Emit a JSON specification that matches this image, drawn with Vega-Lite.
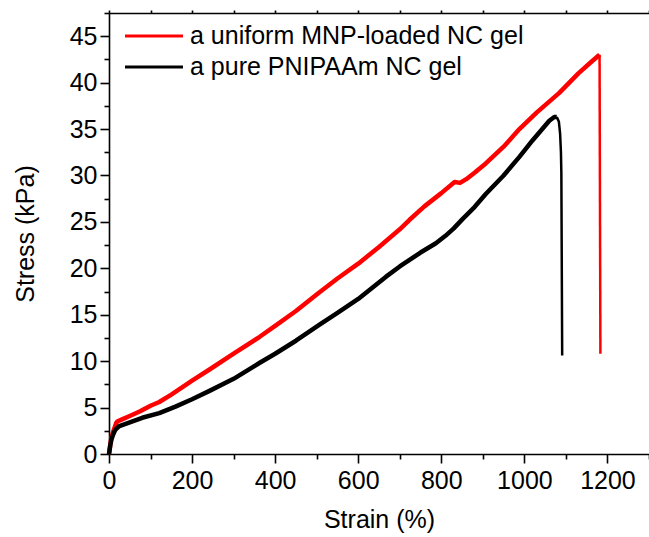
{
  "$schema": "https://vega.github.io/schema/vega-lite/v6.json",
  "width": 540,
  "height": 441,
  "autosize": {"type": "none"},
  "padding": {"left": 109, "top": 13, "right": 0, "bottom": 83},
  "config": {
    "font": "Liberation Sans",
    "view": {"stroke": null},
    "axis": {
      "domainColor": "#000000",
      "domainWidth": 1.6,
      "tickColor": "#000000",
      "tickWidth": 1.6,
      "grid": false,
      "labelColor": "#000000",
      "labelFont": "Liberation Sans",
      "labelFontSize": 25,
      "titleFont": "Liberation Sans",
      "titleFontSize": 25,
      "titleFontWeight": "normal",
      "titleColor": "#000000"
    }
  },
  "datasets": {
    "curves": [
      {"sample": "a uniform MNP-loaded NC gel", "strain": 0, "stress": 0},
      {"sample": "a uniform MNP-loaded NC gel", "strain": 3, "stress": 1.0},
      {"sample": "a uniform MNP-loaded NC gel", "strain": 6, "stress": 1.8},
      {"sample": "a uniform MNP-loaded NC gel", "strain": 10, "stress": 2.4},
      {"sample": "a uniform MNP-loaded NC gel", "strain": 14, "stress": 2.9},
      {"sample": "a uniform MNP-loaded NC gel", "strain": 17, "stress": 3.3},
      {"sample": "a uniform MNP-loaded NC gel", "strain": 20, "stress": 3.5},
      {"sample": "a uniform MNP-loaded NC gel", "strain": 30, "stress": 3.7},
      {"sample": "a uniform MNP-loaded NC gel", "strain": 50, "stress": 4.1},
      {"sample": "a uniform MNP-loaded NC gel", "strain": 75, "stress": 4.6},
      {"sample": "a uniform MNP-loaded NC gel", "strain": 100, "stress": 5.2},
      {"sample": "a uniform MNP-loaded NC gel", "strain": 121, "stress": 5.6},
      {"sample": "a uniform MNP-loaded NC gel", "strain": 150, "stress": 6.4},
      {"sample": "a uniform MNP-loaded NC gel", "strain": 200, "stress": 7.9},
      {"sample": "a uniform MNP-loaded NC gel", "strain": 242, "stress": 9.1},
      {"sample": "a uniform MNP-loaded NC gel", "strain": 300, "stress": 10.8},
      {"sample": "a uniform MNP-loaded NC gel", "strain": 362, "stress": 12.6},
      {"sample": "a uniform MNP-loaded NC gel", "strain": 400, "stress": 13.8},
      {"sample": "a uniform MNP-loaded NC gel", "strain": 450, "stress": 15.4},
      {"sample": "a uniform MNP-loaded NC gel", "strain": 506, "stress": 17.4},
      {"sample": "a uniform MNP-loaded NC gel", "strain": 550, "stress": 18.9},
      {"sample": "a uniform MNP-loaded NC gel", "strain": 600, "stress": 20.5},
      {"sample": "a uniform MNP-loaded NC gel", "strain": 650, "stress": 22.3},
      {"sample": "a uniform MNP-loaded NC gel", "strain": 700, "stress": 24.2},
      {"sample": "a uniform MNP-loaded NC gel", "strain": 723, "stress": 25.2},
      {"sample": "a uniform MNP-loaded NC gel", "strain": 760, "stress": 26.7},
      {"sample": "a uniform MNP-loaded NC gel", "strain": 800, "stress": 28.1},
      {"sample": "a uniform MNP-loaded NC gel", "strain": 832, "stress": 29.3},
      {"sample": "a uniform MNP-loaded NC gel", "strain": 845, "stress": 29.2},
      {"sample": "a uniform MNP-loaded NC gel", "strain": 860, "stress": 29.6},
      {"sample": "a uniform MNP-loaded NC gel", "strain": 880, "stress": 30.3},
      {"sample": "a uniform MNP-loaded NC gel", "strain": 907, "stress": 31.3},
      {"sample": "a uniform MNP-loaded NC gel", "strain": 950, "stress": 33.1},
      {"sample": "a uniform MNP-loaded NC gel", "strain": 988, "stress": 35.0},
      {"sample": "a uniform MNP-loaded NC gel", "strain": 1030, "stress": 36.8},
      {"sample": "a uniform MNP-loaded NC gel", "strain": 1084, "stress": 38.9},
      {"sample": "a uniform MNP-loaded NC gel", "strain": 1130, "stress": 41.0},
      {"sample": "a uniform MNP-loaded NC gel", "strain": 1160, "stress": 42.2},
      {"sample": "a uniform MNP-loaded NC gel", "strain": 1181, "stress": 43.0},
      {"sample": "a pure PNIPAAm NC gel", "strain": 0, "stress": 0},
      {"sample": "a pure PNIPAAm NC gel", "strain": 3, "stress": 0.9},
      {"sample": "a pure PNIPAAm NC gel", "strain": 6, "stress": 1.6},
      {"sample": "a pure PNIPAAm NC gel", "strain": 10, "stress": 2.1},
      {"sample": "a pure PNIPAAm NC gel", "strain": 14, "stress": 2.5},
      {"sample": "a pure PNIPAAm NC gel", "strain": 17, "stress": 2.7},
      {"sample": "a pure PNIPAAm NC gel", "strain": 25, "stress": 3.0},
      {"sample": "a pure PNIPAAm NC gel", "strain": 50, "stress": 3.4},
      {"sample": "a pure PNIPAAm NC gel", "strain": 80, "stress": 3.9},
      {"sample": "a pure PNIPAAm NC gel", "strain": 121, "stress": 4.4},
      {"sample": "a pure PNIPAAm NC gel", "strain": 160, "stress": 5.1},
      {"sample": "a pure PNIPAAm NC gel", "strain": 200, "stress": 5.9},
      {"sample": "a pure PNIPAAm NC gel", "strain": 242, "stress": 6.8},
      {"sample": "a pure PNIPAAm NC gel", "strain": 300, "stress": 8.1},
      {"sample": "a pure PNIPAAm NC gel", "strain": 362, "stress": 9.8},
      {"sample": "a pure PNIPAAm NC gel", "strain": 400, "stress": 10.8},
      {"sample": "a pure PNIPAAm NC gel", "strain": 450, "stress": 12.2},
      {"sample": "a pure PNIPAAm NC gel", "strain": 506, "stress": 13.9},
      {"sample": "a pure PNIPAAm NC gel", "strain": 550, "stress": 15.2},
      {"sample": "a pure PNIPAAm NC gel", "strain": 600, "stress": 16.7},
      {"sample": "a pure PNIPAAm NC gel", "strain": 667, "stress": 19.1},
      {"sample": "a pure PNIPAAm NC gel", "strain": 700, "stress": 20.2},
      {"sample": "a pure PNIPAAm NC gel", "strain": 750, "stress": 21.7},
      {"sample": "a pure PNIPAAm NC gel", "strain": 787, "stress": 22.7},
      {"sample": "a pure PNIPAAm NC gel", "strain": 810, "stress": 23.5},
      {"sample": "a pure PNIPAAm NC gel", "strain": 830, "stress": 24.3},
      {"sample": "a pure PNIPAAm NC gel", "strain": 851, "stress": 25.3},
      {"sample": "a pure PNIPAAm NC gel", "strain": 880, "stress": 26.6},
      {"sample": "a pure PNIPAAm NC gel", "strain": 907, "stress": 28.0},
      {"sample": "a pure PNIPAAm NC gel", "strain": 950, "stress": 30.0},
      {"sample": "a pure PNIPAAm NC gel", "strain": 988, "stress": 32.0},
      {"sample": "a pure PNIPAAm NC gel", "strain": 1020, "stress": 33.8},
      {"sample": "a pure PNIPAAm NC gel", "strain": 1060, "stress": 35.9},
      {"sample": "a pure PNIPAAm NC gel", "strain": 1072, "stress": 36.3},
      {"sample": "a pure PNIPAAm NC gel", "strain": 1078, "stress": 36.3}
    ],
    "drops": [
      {"sample": "a uniform MNP-loaded NC gel", "strain": 1181, "stress": 43.0},
      {"sample": "a uniform MNP-loaded NC gel", "strain": 1183, "stress": 10.8},
      {"sample": "a pure PNIPAAm NC gel", "strain": 1078, "stress": 36.3},
      {"sample": "a pure PNIPAAm NC gel", "strain": 1083, "stress": 35.8},
      {"sample": "a pure PNIPAAm NC gel", "strain": 1086, "stress": 34.5},
      {"sample": "a pure PNIPAAm NC gel", "strain": 1088, "stress": 32.5},
      {"sample": "a pure PNIPAAm NC gel", "strain": 1089, "stress": 30.3},
      {"sample": "a pure PNIPAAm NC gel", "strain": 1091, "stress": 10.6}
    ]
  },
  "resolve": {"axis": {"x": "independent", "y": "independent"}},
  "layer": [
    {
      "data": {"name": "curves"},
      "mark": {"type": "line", "strokeWidth": 4.5, "strokeJoin": "round"},
      "encoding": {
        "x": {
          "field": "strain", "type": "quantitative",
          "scale": {"domain": [0, 1300], "nice": false, "zero": false},
          "axis": {"orient": "bottom", "title": "Strain (%)", "format": "d", "values": [0, 200, 400, 600, 800, 1000, 1200], "tickSize": 9, "labelPadding": 5, "titlePadding": 14, "labelFlush": false, "labelFontSize": 25, "titleFontSize": 25, "labelFont": "Liberation Sans", "titleFont": "Liberation Sans"}
        },
        "y": {
          "field": "stress", "type": "quantitative",
          "scale": {"domain": [0, 47.5], "nice": false, "zero": false},
          "axis": {"orient": "left", "title": "Stress (kPa)", "values": [0, 5, 10, 15, 20, 25, 30, 35, 40, 45], "tickSize": 9, "labelPadding": 3, "titlePadding": 31, "labelFlush": false, "labelFontSize": 25, "titleFontSize": 25, "labelFont": "Liberation Sans", "titleFont": "Liberation Sans"}
        },
        "color": {
          "field": "sample", "type": "nominal",
          "scale": {"domain": ["a uniform MNP-loaded NC gel", "a pure PNIPAAm NC gel"], "range": ["#ff0000", "#000000"]},
          "legend": {
            "orient": "none", "legendX": 29, "legendY": 7, "title": null,
            "symbolType": "M-2,0H2", "symbolSize": 841, "symbolStrokeWidth": 3,
            "labelFontSize": 25, "labelFont": "Liberation Sans", "labelColor": "#000000",
            "labelLimit": 500, "labelOffset": 20, "padding": 0, "rowPadding": 2
          }
        },
        "order": {"field": "strain", "type": "quantitative"}
      }
    },
    {
      "data": {"name": "drops"},
      "mark": {"type": "line", "strokeWidth": 2.5},
      "encoding": {
        "x": {"field": "strain", "type": "quantitative", "axis": null},
        "y": {"field": "stress", "type": "quantitative", "axis": null},
        "color": {"field": "sample", "type": "nominal", "legend": null},
        "order": {"field": "strain", "type": "quantitative"}
      }
    },
    {
      "data": {"name": "drops"},
      "mark": {"type": "point", "opacity": 0},
      "encoding": {
        "x": {"field": "strain", "type": "quantitative",
          "axis": {"orient": "bottom", "title": null, "labels": false, "domain": false, "values": [100, 300, 500, 700, 900, 1100, 1300], "tickSize": 5}},
        "y": {"field": "stress", "type": "quantitative",
          "axis": {"orient": "left", "title": null, "labels": false, "domain": false, "values": [2.5, 7.5, 12.5, 17.5, 22.5, 27.5, 32.5, 37.5, 42.5, 47.5], "tickSize": 5}}
      }
    },
    {
      "data": {"name": "drops"},
      "mark": {"type": "point", "opacity": 0},
      "encoding": {
        "x": {"field": "strain", "type": "quantitative",
          "axis": {"orient": "top", "title": null, "labels": false, "domain": true, "values": [0, 100, 200, 300, 400, 500, 600, 700, 800, 900, 1000, 1100, 1200, 1300], "tickSize": 3}},
        "y": {"field": "stress", "type": "quantitative", "axis": null}
      }
    }
  ]
}
